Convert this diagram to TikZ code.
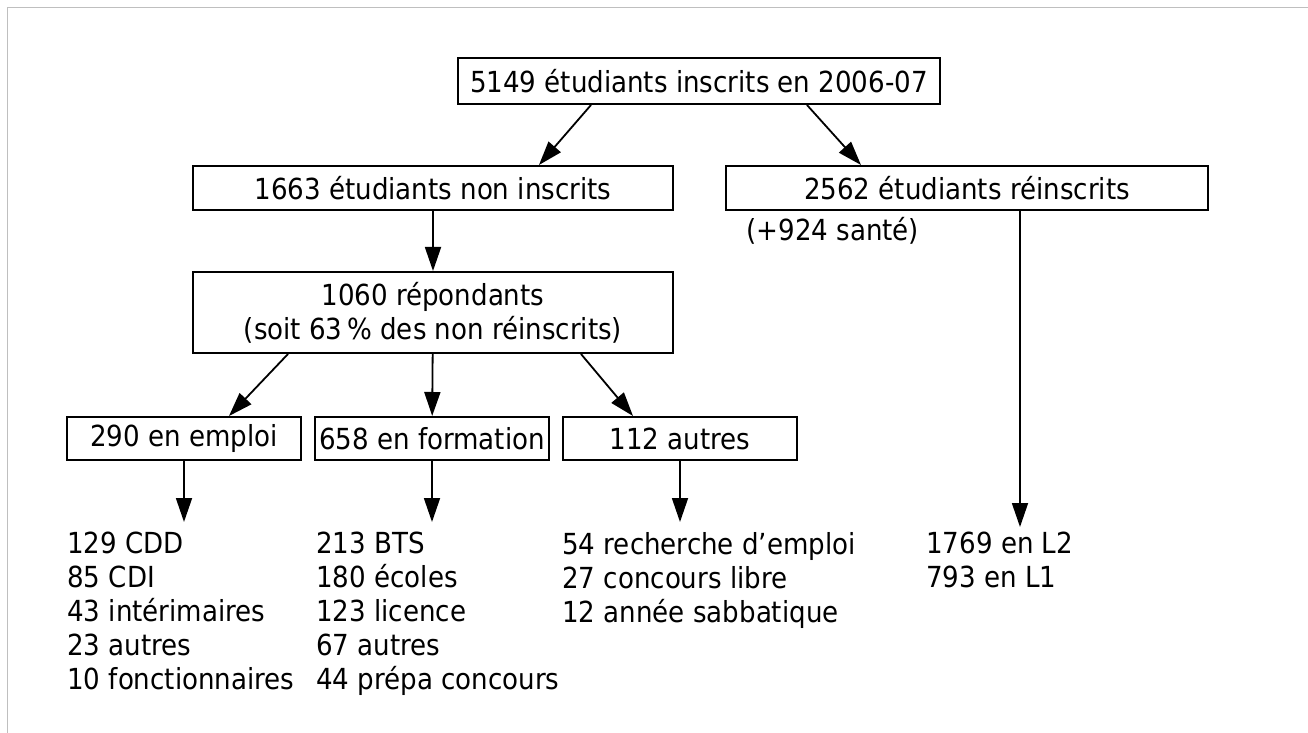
\documentclass[tikz,border=0pt]{standalone}
\usepackage{fontspec}
\setmainfont{DejaVu Sans Condensed}
\usetikzlibrary{arrows.meta}
\usetikzlibrary{calc}
\usetikzlibrary{positioning}

\tikzset{
  box/.style={draw,line width=1pt,inner sep=0pt,minimum height=22pt},
  liste/.style={anchor=north west,inner sep=0pt,align=left},
  fleche/.style={->,line width=0.9pt}
}

\begin{document}
\begin{tikzpicture}[x=0.5pt,y=-0.5pt,>={Triangle[length=12pt,width=8pt]},font=\fontsize{14.5}{17}\selectfont]
  \useasboundingbox (0,0) rectangle (1308,733);
  \draw[line width=0.5pt,gray!50] (7,733) -- (7,8) -- (1308,8);
  % boites
  \node[box,minimum width=241pt,minimum height=23pt] (inscrits) at (699,81) {5149 étudiants inscrits en 2006-07};
  \node[box,minimum width=240pt] (noninscrits) at (433,188) {1663 étudiants non inscrits};
  \node[box,minimum width=241pt] (reinscrits) at (967,188) {2562 étudiants réinscrits};
  \node[anchor=west,inner sep=0pt] (sante) at (746,231) {(+924 santé)};
  \node[box,minimum width=240pt,minimum height=40.5pt,align=center] (repondants) at (433,312.5) {1060 répondants\\(soit 63\,\% des non réinscrits)};
  \node[box,minimum width=117pt,minimum height=21.5pt] (emploi) at (184,438.5) {290 en emploi};
  \node[box,minimum width=117pt,minimum height=21.5pt] (formation) at (432,438.5) {658 en formation};
  \node[box,minimum width=117pt,minimum height=21.5pt] (autres) at (680,438.5) {112 autres};
  % listes
  \node[liste] (lemploi) at (67,532) {129 CDD\\85 CDI\\43 intérimaires\\23 autres\\10 fonctionnaires};
  \node[liste] (lformation) at (316,532) {213 BTS\\180 écoles\\123 licence\\67 autres\\44 prépa concours};
  \node[liste] (lautres) at (562,532) {54 recherche d'emploi\\27 concours libre\\12 année sabbatique};
  \node[liste] (lreinscrits) at (926,532) {1769 en L2\\793 en L1};
  % fleches
  \draw[fleche] ($(inscrits.south)+(-108,0)$) -- ($(noninscrits.north)+(106,0)$);
  \draw[fleche] ($(inscrits.south)+(108,0)$) -- ($(reinscrits.north)+(-106,0)$);
  \draw[fleche] (noninscrits) -- (repondants);
  \draw[fleche] ($(repondants.south)+(-145,0)$) -- ($(emploi.north)+(45,0)$);
  \draw[fleche] (repondants) -- (formation);
  \draw[fleche] ($(repondants.south)+(148,0)$) -- ($(autres.north)+(-47,0)$);
  \draw[fleche,shorten >=5pt] (emploi.south) -- (emploi.south |- lemploi.north);
  \draw[fleche,shorten >=5pt] (formation.south) -- (formation.south |- lformation.north);
  \draw[fleche,shorten >=5pt] (autres.south) -- (autres.south |- lautres.north);
  \draw[fleche,shorten >=2.5pt] ($(reinscrits.south)+(53,0)$) coordinate (r1) -- (r1 |- lreinscrits.north);
\end{tikzpicture}
\end{document}
